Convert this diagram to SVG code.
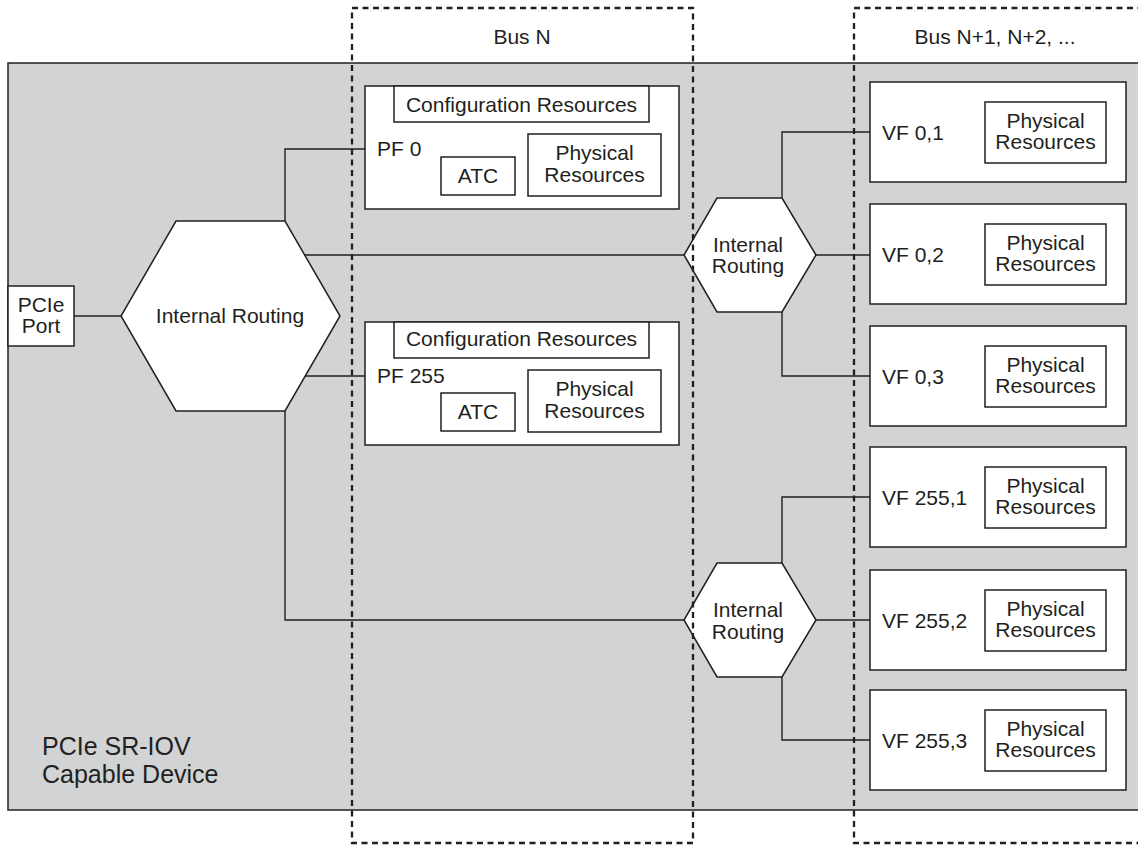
<svg xmlns="http://www.w3.org/2000/svg" width="1138" height="845" viewBox="0 0 1138 845">
<style>
.bg{fill:#d1d3d4;stroke:#231f20;stroke-width:1.5}
.box{fill:#ffffff;stroke:#231f20;stroke-width:1.5}
.ln{fill:none;stroke:#231f20;stroke-width:1.4}
.dash{fill:none;stroke:#231f20;stroke-width:2.3;stroke-dasharray:6 4.5}
text{font-family:"Liberation Sans",Arial,sans-serif;font-size:21px;fill:#231f20}
.c{text-anchor:middle}
.big{font-size:25px}
</style>
<rect class="bg" x="8" y="63" width="1140" height="747"/>
<g id="connectors">
<path class="ln" d="M74 316 H121"/>
<path class="ln" d="M285 221 V149 H365"/>
<path class="ln" d="M305 255 H684"/>
<path class="ln" d="M305 376 H365"/>
<path class="ln" d="M285 411 V620 H684"/>
<path class="ln" d="M782 198 V132 H870"/>
<path class="ln" d="M816 255 H870"/>
<path class="ln" d="M782 312 V376 H870"/>
<path class="ln" d="M782 563 V497 H870"/>
<path class="ln" d="M816 620 H870"/>
<path class="ln" d="M782 677 V740 H870"/>
</g>
<g id="pcie-port">
<rect class="box" x="8" y="286" width="66" height="60"/>
<text class="c" x="41" y="312">PCIe</text>
<text class="c" x="41" y="333">Port</text>
</g>
<g id="routing-main">
<polygon class="box" points="176,221 285,221 340,316 285,411 176,411 121,316"/>
<text class="c" x="230" y="323">Internal Routing</text>
</g>
<g id="pf0">
<rect class="box" x="365" y="86" width="314" height="123"/>
<rect class="box" x="394" y="86" width="255" height="36"/>
<text class="c" x="521.5" y="112">Configuration Resources</text>
<text x="377" y="156">PF 0</text>
<rect class="box" x="441" y="157" width="74" height="38"/>
<text class="c" x="478" y="183">ATC</text>
<rect class="box" x="528" y="134" width="133" height="62"/>
<text class="c" x="594.5" y="160">Physical</text>
<text class="c" x="594.5" y="182">Resources</text>
</g>
<g id="pf255">
<rect class="box" x="365" y="322" width="314" height="123"/>
<rect class="box" x="394" y="322" width="255" height="36"/>
<text class="c" x="521.5" y="346">Configuration Resources</text>
<text x="377" y="383">PF 255</text>
<rect class="box" x="441" y="393" width="74" height="38"/>
<text class="c" x="478" y="419">ATC</text>
<rect class="box" x="528" y="370" width="133" height="62"/>
<text class="c" x="594.5" y="396">Physical</text>
<text class="c" x="594.5" y="418">Resources</text>
</g>
<g id="routing-vf0">
<polygon class="box" points="717,198 782,198 816,255 782,312 717,312 684,255"/>
<text class="c" x="748" y="252">Internal</text>
<text class="c" x="748" y="273">Routing</text>
</g>
<g id="routing-vf255">
<polygon class="box" points="717,563 782,563 816,620 782,677 717,677 684,620"/>
<text class="c" x="748" y="617">Internal</text>
<text class="c" x="748" y="639">Routing</text>
</g>
<g id="vf0-1">
<rect class="box" x="870" y="82" width="256" height="100"/>
<text x="882" y="140">VF 0,1</text>
<rect class="box" x="985" y="102" width="121" height="61"/>
<text class="c" x="1045.5" y="128">Physical</text>
<text class="c" x="1045.5" y="149">Resources</text>
</g>
<g id="vf0-2">
<rect class="box" x="870" y="204" width="256" height="100"/>
<text x="882" y="262">VF 0,2</text>
<rect class="box" x="985" y="224" width="121" height="61"/>
<text class="c" x="1045.5" y="250">Physical</text>
<text class="c" x="1045.5" y="271">Resources</text>
</g>
<g id="vf0-3">
<rect class="box" x="870" y="326" width="256" height="100"/>
<text x="882" y="384">VF 0,3</text>
<rect class="box" x="985" y="346" width="121" height="61"/>
<text class="c" x="1045.5" y="372">Physical</text>
<text class="c" x="1045.5" y="393">Resources</text>
</g>
<g id="vf255-1">
<rect class="box" x="870" y="447" width="256" height="100"/>
<text x="882" y="505">VF 255,1</text>
<rect class="box" x="985" y="467" width="121" height="61"/>
<text class="c" x="1045.5" y="493">Physical</text>
<text class="c" x="1045.5" y="514">Resources</text>
</g>
<g id="vf255-2">
<rect class="box" x="870" y="570" width="256" height="100"/>
<text x="882" y="628">VF 255,2</text>
<rect class="box" x="985" y="590" width="121" height="61"/>
<text class="c" x="1045.5" y="616">Physical</text>
<text class="c" x="1045.5" y="637">Resources</text>
</g>
<g id="vf255-3">
<rect class="box" x="870" y="690" width="256" height="100"/>
<text x="882" y="748">VF 255,3</text>
<rect class="box" x="985" y="710" width="121" height="61"/>
<text class="c" x="1045.5" y="736">Physical</text>
<text class="c" x="1045.5" y="757">Resources</text>
</g>
<g id="device-label">
<text class="big" x="42" y="755">PCIe SR-IOV</text>
<text class="big" x="42" y="783">Capable Device</text>
</g>
<g id="bus-n">
<rect class="dash" x="352" y="8" width="341" height="835"/>
<text class="c" x="522" y="44">Bus N</text>
</g>
<g id="bus-n1">
<rect class="dash" x="854" y="8" width="320" height="835"/>
<text class="c" x="995" y="44">Bus N+1, N+2, ...</text>
</g>
</svg>
